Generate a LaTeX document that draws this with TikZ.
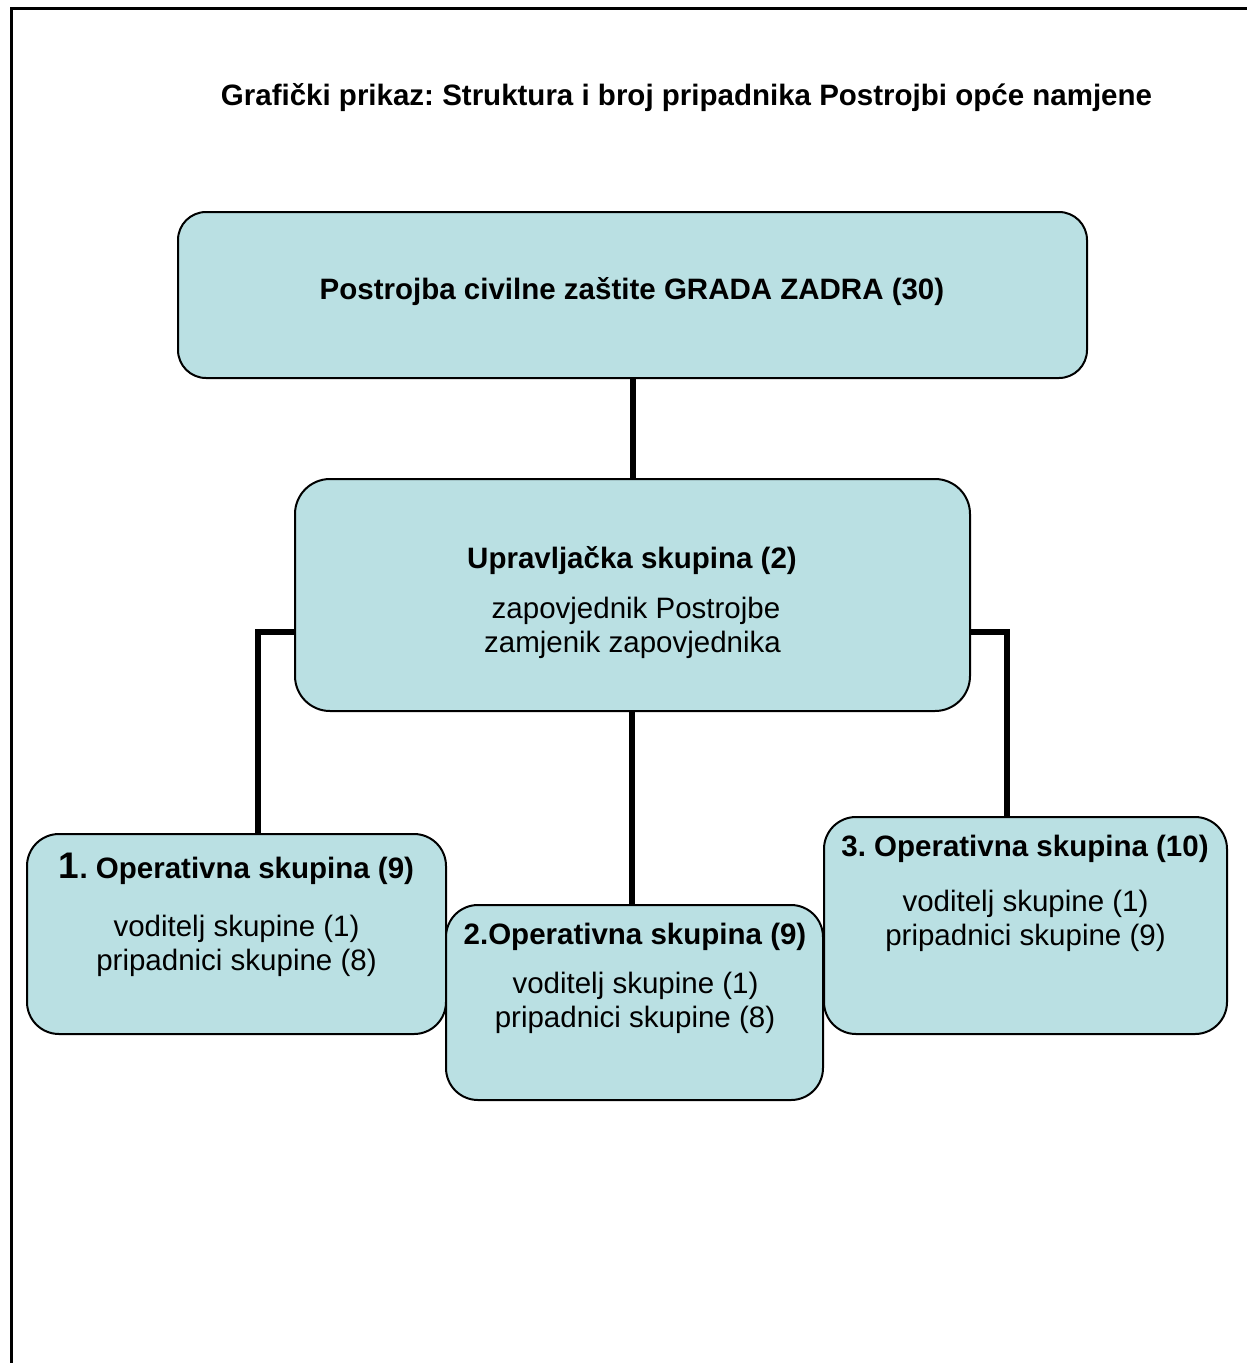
\documentclass[tikz,border=0pt]{standalone}
\usepackage{fontspec}
\setmainfont{Liberation Sans}
\usetikzlibrary{backgrounds}
\frenchspacing
\definecolor{boxfill}{RGB}{186,224,227}
\tikzset{
  box/.style={draw=black, line width=2pt, fill=boxfill, inner sep=0pt},
  conn/.style={draw=black, line width=6pt},
  framel/.style={draw=black, line width=3pt},
  hd/.style={font=\fontsize{29.5}{34}\selectfont\bfseries, anchor=base, inner sep=0pt},
  tx/.style={font=\fontsize{29.5}{34}\selectfont, anchor=base, inner sep=0pt}
}
\begin{document}
\begin{tikzpicture}[x=1pt,y=-1pt]
\useasboundingbox (0,0) rectangle (1247,1363);
\draw[framel] (1247,8) -- (11,8) -- (11,1363);

\node[hd] (title) at (686.5,105) {Grafički prikaz: Struktura i broj pripadnika Postrojbi opće namjene};

\node[box, rounded corners=28pt, minimum width=909pt, minimum height=166pt] (top) at (632.5,295) {};
\node[hd] (toptxt) at (632,299) {Postrojba civilne zaštite GRADA ZADRA (30)};

\node[box, rounded corners=35pt, minimum width=675pt, minimum height=232pt] (mid) at (632.5,595) {};
\node[hd] (midh) at (632,568) {Upravljačka skupina (2)};
\node[tx] (mid1) at (636,618) {zapovjednik Postrojbe};
\node[tx] (mid2) at (632.5,652) {zamjenik zapovjednika};

\node[box, rounded corners=32pt, minimum width=419pt, minimum height=200pt] (b1) at (236.5,934) {};
\node[hd] (b1h) at (236.5,878) {{\fontsize{37}{40}\selectfont 1}. Operativna skupina (9)};
\node[tx] (b1a) at (236.5,936) {voditelj skupine (1)};
\node[tx] (b1b) at (236.5,970) {pripadnici skupine (8)};

\node[box, rounded corners=32pt, minimum width=377pt, minimum height=195pt] (b2) at (634.5,1002.5) {};
\node[hd] (b2h) at (635,944) {2.Operativna skupina (9)};
\node[tx] (b2a) at (635.5,993) {voditelj skupine (1)};
\node[tx] (b2b) at (635,1027) {pripadnici skupine (8)};

\node[box, rounded corners=32pt, minimum width=403pt, minimum height=217pt] (b3) at (1025.5,925.5) {};
\node[hd] (b3h) at (1025,856) {3. Operativna skupina (10)};
\node[tx] (b3a) at (1025.5,911) {voditelj skupine (1)};
\node[tx] (b3b) at (1025.5,945) {pripadnici skupine (9)};

\begin{scope}[on background layer]
\draw[conn] (top.south) -- (mid.north);
\draw[conn] ([xshift=-0.5pt]mid.south) -- ([xshift=-0.5pt]mid.south |- b2.north);
\draw[conn] ([yshift=-37pt]mid.west) -| ([xshift=21.5pt]b1.north);
\draw[conn] ([yshift=-37pt]mid.east) -| ([xshift=-18.5pt]b3.north);
\end{scope}
\end{tikzpicture}
\end{document}
